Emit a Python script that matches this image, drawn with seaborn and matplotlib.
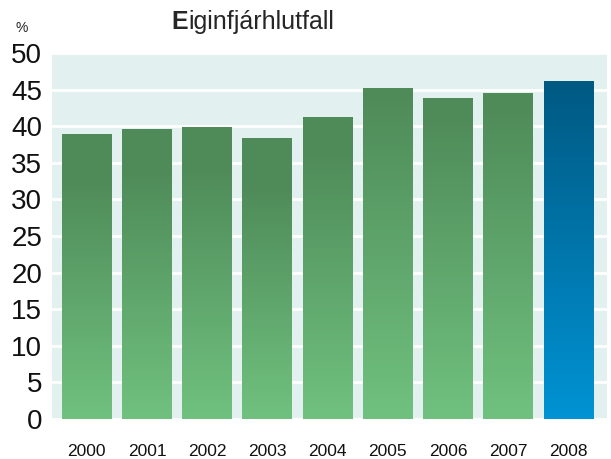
"""Eiginfjárhlutfall bar chart with gradient bars."""

import matplotlib.pyplot as plt
import numpy as np
import pandas as pd
import seaborn as sns
from matplotlib.colors import LinearSegmentedColormap

years = ["2000", "2001", "2002", "2003", "2004", "2005", "2006", "2007", "2008"]
ratio = [38.9, 39.6, 39.8, 38.3, 41.2, 45.2, 43.8, 44.5, 46.1]
y_ticks = [0, 5, 10, 15, 20, 25, 30, 35, 40, 45, 50]

green = LinearSegmentedColormap.from_list("green", ["#70c17f", "#4f8b59"])
blue = LinearSegmentedColormap.from_list("blue", ["#0093d4", "#005982"])

sns.set_theme(style="white")
fonts = ["Liberation Sans Narrow", "Liberation Sans", "DejaVu Sans"]
plt.rcParams["font.family"] = fonts

df = pd.DataFrame({"year": years, "ratio": ratio})

fig = plt.figure(figsize=(6.11, 4.59), dpi=100)
ax = fig.add_axes([0.085, 0.087, 0.9085, 0.7975])
ax.set_facecolor("#e2f0f0")

sns.barplot(data=df, x="year", y="ratio", ax=ax, width=0.83, color="#70c17f")

# swap the flat bars for vertical gradients
grad = np.linspace(0, 1, 256).reshape(-1, 1)
for i, bar in enumerate(ax.patches):
    x0, w, h = bar.get_x(), bar.get_width(), bar.get_height()
    cmap = blue if years[i] == "2008" else green
    ax.imshow(grad, cmap=cmap, origin="lower", aspect="auto",
              extent=[x0, x0 + w, 0, h], vmin=0, vmax=h / 46.1, zorder=3)
    bar.set_visible(False)

ax.set_xlim(-0.58, 8.64)
ax.set_ylim(0, 50)
ax.set_yticks(y_ticks)
ax.grid(axis="y", color="white", linewidth=2)
ax.set_axisbelow(True)
for s in ax.spines.values():
    s.set_visible(False)
ax.tick_params(axis="y", length=0, pad=7, labelsize=20, labelcolor="#111111")
ax.tick_params(axis="x", length=0, pad=18, labelsize=12.5, labelcolor="#111111")
ax.set_xlabel("")
ax.set_ylabel("")

fig.text(0.036, 0.94, "%", fontsize=10, ha="center", va="center")
fig.text(0.281, 0.952, "E", fontsize=18, fontweight="bold", va="center")
fig.text(0.309, 0.952, "iginfjárhlutfall", fontsize=18, va="center")

fig.savefig("out.png", dpi=100)
